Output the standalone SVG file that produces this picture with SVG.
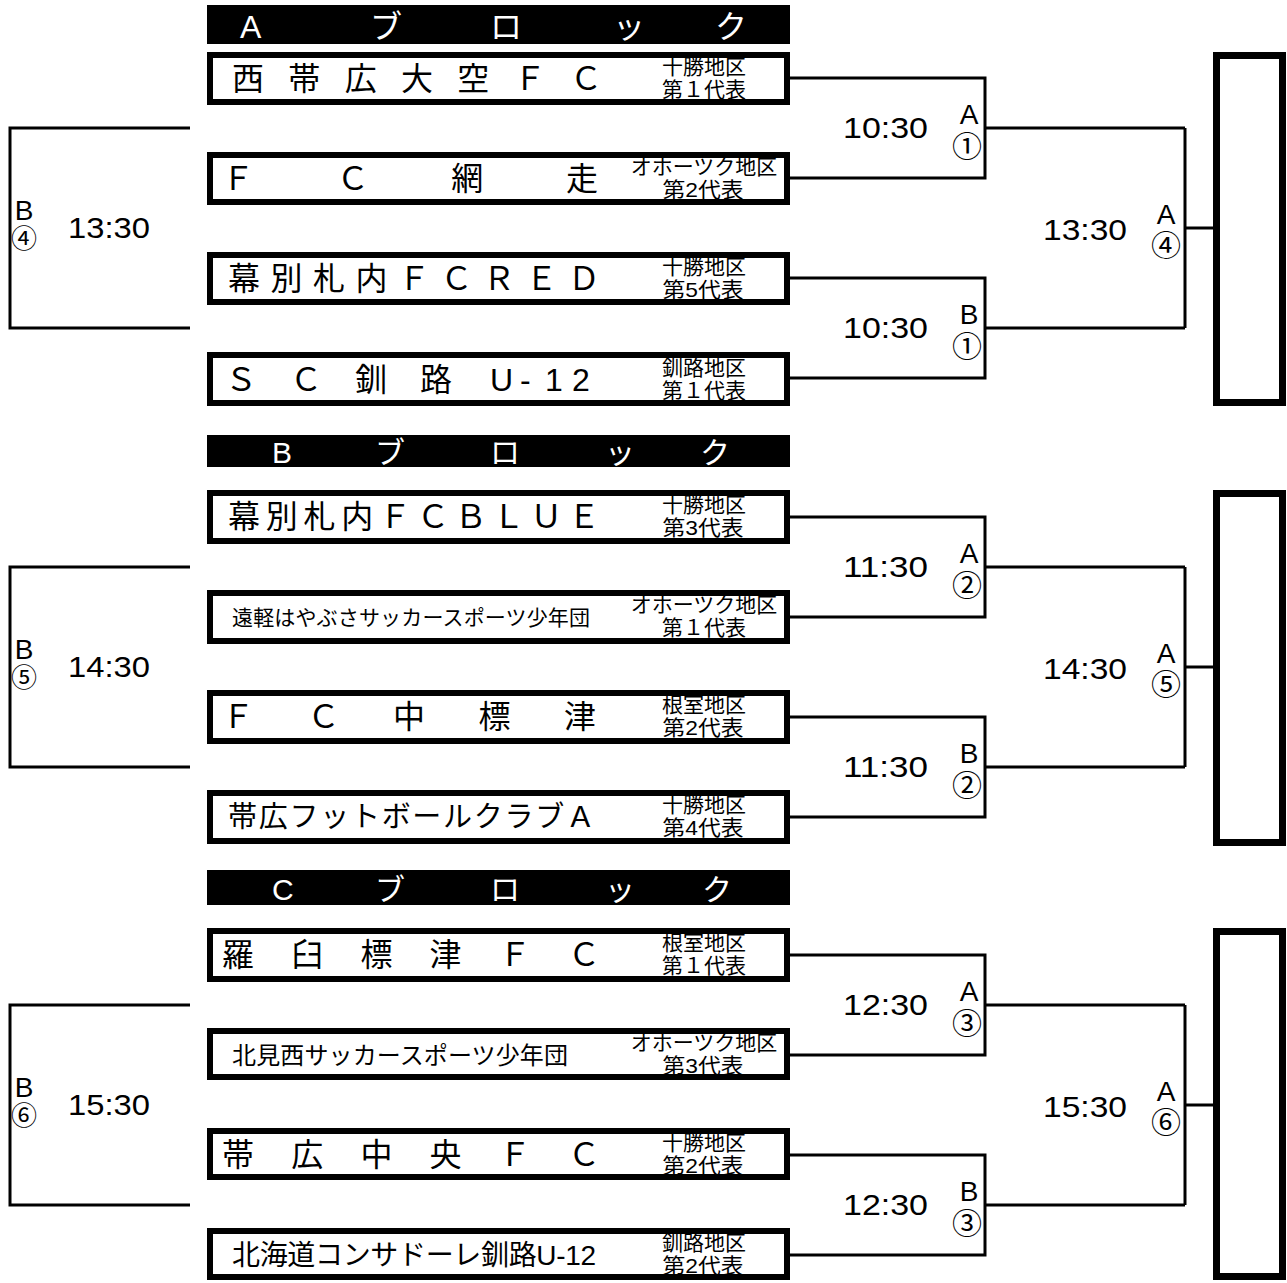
<svg xmlns="http://www.w3.org/2000/svg" width="1287" height="1283" viewBox="0 0 1287 1283">
<style>
text{font-family:"Liberation Sans","Noto Sans CJK JP",sans-serif;fill:#000}
.box{fill:none;stroke:#000;stroke-width:6}
.fin{fill:none;stroke:#000;stroke-width:7}
.hdr{fill:#000}
.ln{fill:none;stroke:#000;stroke-width:3}
.name{font-size:32px}
.sub{font-size:21px;text-anchor:middle}
.ht{fill:#fff;font-size:32px}
.time{font-size:30px}
.lbl{font-size:28px;text-anchor:middle}
.cir{font-size:30px;text-anchor:middle}
.cirl{font-size:26px;text-anchor:middle}
</style>
<rect width="1287" height="1283" fill="#fff"/>

<g id="connectors">
  <polyline class="ln" points="790,78 985,78 985,178 790,178"/>
  <polyline class="ln" points="790,278 985,278 985,378 790,378"/>
  <line class="ln" x1="985" y1="128" x2="1185" y2="128"/>
  <line class="ln" x1="985" y1="328" x2="1185" y2="328"/>
  <line class="ln" x1="1185" y1="128" x2="1185" y2="328"/>
  <line class="ln" x1="1185" y1="228" x2="1216" y2="228"/>
  <polyline class="ln" points="190,128 10,128 10,328 190,328"/>
  <polyline class="ln" points="790,517 985,517 985,617 790,617"/>
  <polyline class="ln" points="790,717 985,717 985,817 790,817"/>
  <line class="ln" x1="985" y1="567" x2="1185" y2="567"/>
  <line class="ln" x1="985" y1="767" x2="1185" y2="767"/>
  <line class="ln" x1="1185" y1="567" x2="1185" y2="767"/>
  <line class="ln" x1="1185" y1="667" x2="1216" y2="667"/>
  <polyline class="ln" points="190,567 10,567 10,767 190,767"/>
  <polyline class="ln" points="790,955 985,955 985,1055 790,1055"/>
  <polyline class="ln" points="790,1155 985,1155 985,1255 790,1255"/>
  <line class="ln" x1="985" y1="1005" x2="1185" y2="1005"/>
  <line class="ln" x1="985" y1="1205" x2="1185" y2="1205"/>
  <line class="ln" x1="1185" y1="1005" x2="1185" y2="1205"/>
  <line class="ln" x1="1185" y1="1105" x2="1216" y2="1105"/>
  <polyline class="ln" points="190,1005 10,1005 10,1205 190,1205"/>
</g>

<g id="headerA">
  <rect class="hdr" x="207" y="5" width="583" height="39"/>
  <text class="ht" x="240 370 490 613 715" y="38">Aブロック</text>
</g>
<g id="headerB">
  <rect class="hdr" x="207" y="435" width="583" height="32"/>
  <text class="ht" x="272 375 490 605 700" y="463" style="font-size:30px">Bブロック</text>
</g>
<g id="headerC">
  <rect class="hdr" x="207" y="870" width="583" height="35"/>
  <text class="ht" x="272 375 490 605 702" y="900" style="font-size:30px">Cブロック</text>
</g>

<g id="team1">
  <text class="name" x="232" y="90" textLength="370" lengthAdjust="spacing">西帯広大空ＦＣ</text>
  <text class="sub" x="704" y="74">十勝地区</text>
  <text class="sub" x="704" y="97">第１代表</text>
  <rect class="box" x="210" y="55" width="577" height="47"/>
</g>
<g id="team2">
  <text class="name" x="222" y="190" textLength="376" lengthAdjust="spacing">ＦＣ網走</text>
  <text class="sub" x="704" y="174">オホーツク地区</text>
  <text class="sub" x="703" y="197" textLength="81" lengthAdjust="spacingAndGlyphs">第2代表</text>
  <rect class="box" x="210" y="155" width="577" height="47"/>
</g>
<g id="team3">
  <text class="name" x="228" y="290" textLength="372" lengthAdjust="spacing">幕別札内ＦＣＲＥＤ</text>
  <text class="sub" x="704" y="274">十勝地区</text>
  <text class="sub" x="703" y="297" textLength="81" lengthAdjust="spacingAndGlyphs">第5代表</text>
  <rect class="box" x="210" y="255" width="577" height="47"/>
</g>
<g id="team4">
  <text class="name" x="225 290 355 420 490 520 545 572" y="391">ＳＣ釧路U-12</text>
  <text class="sub" x="704" y="375">釧路地区</text>
  <text class="sub" x="704" y="398">第１代表</text>
  <rect class="box" x="210" y="355" width="577" height="48"/>
</g>

<g id="team5">
  <text class="name" x="228" y="528" textLength="372" lengthAdjust="spacing">幕別札内ＦＣＢＬＵＥ</text>
  <text class="sub" x="704" y="512">十勝地区</text>
  <text class="sub" x="703" y="535" textLength="81" lengthAdjust="spacingAndGlyphs">第3代表</text>
  <rect class="box" x="210" y="493" width="577" height="48"/>
</g>
<g id="team6">
  <text class="name" x="232" y="625" style="font-size:21px" textLength="358" lengthAdjust="spacing">遠軽はやぶさサッカースポーツ少年団</text>
  <text class="sub" x="704" y="612">オホーツク地区</text>
  <text class="sub" x="704" y="635">第１代表</text>
  <rect class="box" x="210" y="593" width="577" height="48"/>
</g>
<g id="team7">
  <text class="name" x="222" y="728" textLength="374" lengthAdjust="spacing">ＦＣ中標津</text>
  <text class="sub" x="704" y="712">根室地区</text>
  <text class="sub" x="703" y="735" textLength="81" lengthAdjust="spacingAndGlyphs">第2代表</text>
  <rect class="box" x="210" y="693" width="577" height="48"/>
</g>
<g id="team8">
  <text class="name" x="228" y="827" style="font-size:29px" textLength="367" lengthAdjust="spacing">帯広フットボールクラブＡ</text>
  <text class="sub" x="704" y="812">十勝地区</text>
  <text class="sub" x="703" y="835" textLength="81" lengthAdjust="spacingAndGlyphs">第4代表</text>
  <rect class="box" x="210" y="793" width="577" height="48"/>
</g>

<g id="team9">
  <text class="name" x="222" y="966" textLength="378" lengthAdjust="spacing">羅臼標津ＦＣ</text>
  <text class="sub" x="704" y="950">根室地区</text>
  <text class="sub" x="704" y="973">第１代表</text>
  <rect class="box" x="210" y="931" width="577" height="48"/>
</g>
<g id="team10">
  <text class="name" x="232" y="1064" style="font-size:24px" textLength="336" lengthAdjust="spacing">北見西サッカースポーツ少年団</text>
  <text class="sub" x="704" y="1050">オホーツク地区</text>
  <text class="sub" x="703" y="1073" textLength="81" lengthAdjust="spacingAndGlyphs">第3代表</text>
  <rect class="box" x="210" y="1031" width="577" height="46"/>
</g>
<g id="team11">
  <text class="name" x="222" y="1166" textLength="378" lengthAdjust="spacing">帯広中央ＦＣ</text>
  <text class="sub" x="704" y="1150">十勝地区</text>
  <text class="sub" x="703" y="1173" textLength="81" lengthAdjust="spacingAndGlyphs">第2代表</text>
  <rect class="box" x="210" y="1131" width="577" height="46"/>
</g>
<g id="team12">
  <text class="name" x="232" y="1265" style="font-size:28px" textLength="364" lengthAdjust="spacing">北海道コンサドーレ釧路U-12</text>
  <text class="sub" x="704" y="1250">釧路地区</text>
  <text class="sub" x="703" y="1273" textLength="81" lengthAdjust="spacingAndGlyphs">第2代表</text>
  <rect class="box" x="210" y="1231" width="577" height="46"/>
</g>

<g id="finalA"><rect class="fin" x="1216.5" y="55.5" width="66" height="347"/></g>
<g id="finalB"><rect class="fin" x="1216.5" y="493.5" width="66" height="349"/></g>
<g id="finalC"><rect class="fin" x="1216.5" y="931.5" width="66" height="345"/></g>

<g id="labels">
  <text class="time" x="843" y="138" textLength="85" lengthAdjust="spacingAndGlyphs">10:30</text>
  <text class="lbl" x="969" y="124">A</text>
  <text class="cir" x="967" y="157">①</text>
  <text class="time" x="843" y="338" textLength="85" lengthAdjust="spacingAndGlyphs">10:30</text>
  <text class="lbl" x="969" y="324">B</text>
  <text class="cir" x="967" y="357">①</text>
  <text class="time" x="1043" y="240" textLength="84" lengthAdjust="spacingAndGlyphs">13:30</text>
  <text class="lbl" x="1166" y="224">A</text>
  <text class="cir" x="1166" y="256">④</text>
  <text class="lbl" x="24" y="220">B</text>
  <text class="cirl" x="24" y="248">④</text>
  <text class="time" x="68" y="238" textLength="82" lengthAdjust="spacingAndGlyphs">13:30</text>

  <text class="time" x="843" y="577" textLength="85" lengthAdjust="spacingAndGlyphs">11:30</text>
  <text class="lbl" x="969" y="563">A</text>
  <text class="cir" x="967" y="596">②</text>
  <text class="time" x="843" y="777" textLength="85" lengthAdjust="spacingAndGlyphs">11:30</text>
  <text class="lbl" x="969" y="763">B</text>
  <text class="cir" x="967" y="796">②</text>
  <text class="time" x="1043" y="679" textLength="84" lengthAdjust="spacingAndGlyphs">14:30</text>
  <text class="lbl" x="1166" y="663">A</text>
  <text class="cir" x="1166" y="695">⑤</text>
  <text class="lbl" x="24" y="659">B</text>
  <text class="cirl" x="24" y="687">⑤</text>
  <text class="time" x="68" y="677" textLength="82" lengthAdjust="spacingAndGlyphs">14:30</text>

  <text class="time" x="843" y="1015" textLength="85" lengthAdjust="spacingAndGlyphs">12:30</text>
  <text class="lbl" x="969" y="1001">A</text>
  <text class="cir" x="967" y="1034">③</text>
  <text class="time" x="843" y="1215" textLength="85" lengthAdjust="spacingAndGlyphs">12:30</text>
  <text class="lbl" x="969" y="1201">B</text>
  <text class="cir" x="967" y="1234">③</text>
  <text class="time" x="1043" y="1117" textLength="84" lengthAdjust="spacingAndGlyphs">15:30</text>
  <text class="lbl" x="1166" y="1101">A</text>
  <text class="cir" x="1166" y="1133">⑥</text>
  <text class="lbl" x="24" y="1097">B</text>
  <text class="cirl" x="24" y="1125">⑥</text>
  <text class="time" x="68" y="1115" textLength="82" lengthAdjust="spacingAndGlyphs">15:30</text>
</g>
</svg>
